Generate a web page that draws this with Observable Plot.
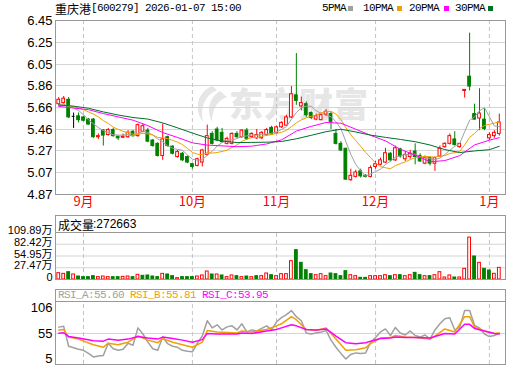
<!DOCTYPE html>
<html><head><meta charset="utf-8">
<script src="https://cdn.jsdelivr.net/npm/d3@7"></script>
<script src="https://cdn.jsdelivr.net/npm/@observablehq/plot@0.6"></script>
<style>
html,body{margin:0;padding:0;background:#fff;}
#wrap{position:relative;width:520px;height:365px;overflow:hidden;background:#fff;}
.abs{position:absolute;white-space:nowrap;line-height:13px;}
.mono{font-family:"Liberation Mono",monospace;font-size:11px;letter-spacing:-0.6px;}
.cjk{font-family:"Noto Sans CJK SC",sans-serif;font-size:12px;}
.sq{position:absolute;width:5px;height:5px;}
#wm{position:absolute;left:229px;top:83px;font-family:"Noto Sans CJK SC",sans-serif;font-weight:900;font-size:34px;line-height:40px;color:#e6e6e6;letter-spacing:1px;}
#wmicon{position:absolute;left:190px;top:84px;}
</style></head>
<body><div id="wrap">
<svg id="wmicon" width="40" height="40"><path d="M22 2 C 8 8, 3 24, 13 38 C 10 24, 14 12, 27 6 Z" fill="#e6e6e6"/><path d="M30 7 C 19 14, 16 26, 22 38 C 22 27, 26 17, 37 13 Z" fill="#e6e6e6"/></svg>
<div id="wm">东方财富</div>
</div>
<script>
// ---------- data ----------
const open = [5.69,5.70,5.73,5.58,5.58,5.57,5.55,5.55,5.39,5.45,
5.41,5.455,5.395,5.385,5.39,5.44,5.40,5.44,5.45,5.36,
5.33,5.22,5.39,5.305,5.21,5.24,5.21,5.145,5.13,5.16,
5.23,5.42,5.46,5.43,5.33,5.33,5.42,5.39,5.45,5.39,
5.38,5.38,5.41,5.475,5.425,5.48,5.495,5.57,5.77,5.67,
5.69,5.61,5.55,5.545,5.595,5.60,5.42,5.33,5.285,5.00,
5.03,5.08,5.04,5.03,5.12,5.14,5.16,5.24,5.18,5.28,
5.19,5.21,5.26,5.22,5.15,5.20,5.15,5.215,5.30,5.33,
5.37,5.30,5.81,5.94,5.60,5.56,5.55,5.38,5.40,5.42];
const high = [5.75,5.76,5.75,5.61,5.61,5.58,5.56,5.56,5.42,5.46,
5.47,5.47,5.40,5.42,5.45,5.45,5.51,5.51,5.47,5.37,
5.34,5.51,5.40,5.31,5.27,5.25,5.22,5.15,5.20,5.28,
5.50,5.44,5.48,5.47,5.39,5.43,5.44,5.46,5.47,5.43,
5.46,5.44,5.47,5.49,5.49,5.53,5.59,5.85,6.15,5.755,
5.71,5.62,5.60,5.61,5.64,5.62,5.46,5.35,5.29,5.10,
5.09,5.10,5.05,5.13,5.17,5.20,5.29,5.25,5.31,5.29,
5.26,5.27,5.33,5.24,5.22,5.21,5.21,5.31,5.34,5.42,
5.44,5.33,5.82,6.335,5.69,5.83,5.65,5.43,5.45,5.60];
const low = [5.67,5.69,5.56,5.47,5.52,5.53,5.50,5.38,5.37,5.31,
5.40,5.39,5.36,5.38,5.38,5.39,5.39,5.43,5.34,5.30,
5.21,5.18,5.30,5.23,5.20,5.17,5.15,5.10,5.12,5.12,
5.22,5.32,5.35,5.34,5.32,5.32,5.38,5.38,5.36,5.38,
5.37,5.37,5.40,5.41,5.42,5.47,5.49,5.56,5.68,5.63,
5.57,5.55,5.54,5.54,5.58,5.46,5.32,5.26,5.00,4.99,
5.02,5.02,5.02,5.02,5.10,5.13,5.15,5.17,5.17,5.20,
5.17,5.19,5.14,5.16,5.14,5.13,5.08,5.21,5.29,5.32,
5.31,5.29,5.745,5.81,5.545,5.45,5.45,5.36,5.38,5.40];
const close = [5.73,5.74,5.57,5.58,5.545,5.54,5.505,5.39,5.40,5.405,
5.455,5.40,5.38,5.395,5.43,5.40,5.50,5.49,5.35,5.31,
5.22,5.37,5.31,5.24,5.255,5.18,5.16,5.12,5.19,5.27,
5.40,5.33,5.36,5.345,5.375,5.42,5.39,5.45,5.375,5.42,
5.41,5.43,5.455,5.415,5.48,5.52,5.57,5.78,5.72,5.70,
5.59,5.565,5.58,5.59,5.62,5.53,5.33,5.27,5.005,5.04,
5.07,5.035,5.03,5.11,5.145,5.18,5.245,5.18,5.29,5.215,
5.23,5.24,5.21,5.17,5.20,5.15,5.20,5.285,5.33,5.40,
5.32,5.33,5.82,5.85,5.55,5.605,5.465,5.41,5.43,5.525];
// volume, 万
const volume = [14.8,13.2,17.1,11.7,7.0,5.5,5.5,7.8,5.5,7.0,
5.5,5.5,5.5,6.2,7.0,5.5,10.9,8.6,9.4,7.0,
5.5,13.2,11.7,7.8,3.1,5.5,5.5,5.5,7.0,9.4,
18.7,11.7,11.7,9.4,5.5,9.4,7.8,5.5,7.0,5.5,
7.8,7.8,14.0,10.1,7.8,12.5,12.5,42.9,68.6,39.0,
21.8,12.5,10.1,12.5,7.8,14.0,12.5,7.8,19.5,10.1,
7.8,3.9,3.9,7.8,7.8,7.8,10.1,7.8,10.1,10.1,
7.8,10.1,15.6,10.1,7.8,7.8,10.1,17.1,4.7,9.4,
4.7,4.7,25.0,98.0,53.8,39.0,25.0,21.0,13.3,27.27];
const ma5 = [5.69,5.69,5.67,5.655,5.633,5.595,5.548,5.512,5.478,5.45,
5.433,5.412,5.41,5.409,5.414,5.403,5.423,5.443,5.434,5.41,
5.374,5.348,5.312,5.29,5.279,5.271,5.229,5.191,5.181,5.184,
5.228,5.262,5.31,5.341,5.362,5.366,5.378,5.396,5.402,5.411,
5.409,5.417,5.418,5.426,5.438,5.46,5.488,5.553,5.614,5.658,
5.672,5.671,5.631,5.605,5.589,5.577,5.53,5.468,5.351,5.235,
5.143,5.084,5.036,5.057,5.078,5.10,5.142,5.172,5.208,5.222,
5.232,5.231,5.237,5.213,5.21,5.194,5.186,5.201,5.233,5.273,
5.307,5.333,5.44,5.544,5.574,5.631,5.658,5.576,5.492,5.487];
const ma10 = [5.68,5.68,5.675,5.67,5.655,5.64,5.62,5.60,5.575,5.541,
5.515,5.481,5.462,5.443,5.432,5.417,5.416,5.426,5.42,5.411,
5.388,5.385,5.378,5.362,5.345,5.323,5.289,5.252,5.236,5.232,
5.25,5.246,5.251,5.261,5.273,5.297,5.32,5.353,5.372,5.387,
5.388,5.398,5.407,5.414,5.425,5.435,5.453,5.486,5.52,5.548,
5.566,5.58,5.592,5.61,5.624,5.625,5.601,5.55,5.478,5.412,
5.36,5.307,5.252,5.204,5.157,5.122,5.113,5.104,5.133,5.15,
5.166,5.187,5.205,5.211,5.216,5.213,5.209,5.219,5.223,5.242,
5.251,5.26,5.321,5.389,5.424,5.469,5.496,5.508,5.518,5.531];
const maIdx = [0,3,6,9,12,15,18,21,24,27,30,33,36,39,42,45,48,51,54,57,60,63,66,69,72,75,78,81,84,87,89];
const ma20 = [5.67,5.655,5.64,5.605,5.575,5.545,5.495,5.4325,5.388,5.339,5.3185,5.3115,5.304,5.309,5.329,5.366,5.446,5.4885,5.524,5.5175,5.463,5.407,5.357,5.281,5.228,5.167,5.178,5.223,5.32,5.3635,5.386];
const ma30 = [5.683,5.672,5.653,5.62,5.592,5.569,5.555,5.52,5.475,5.428,5.3838,5.3553,5.3415,5.343,5.345,5.3513,5.3757,5.4075,5.4403,5.4627,5.4378,5.4092,5.3887,5.37,5.3495,5.3197,5.2778,5.251,5.2653,5.277,5.3073];
// RSI_A at every trading day
const rsiA = [67.5,69,30,27,24,22,16,9,11,12,
36,25,22,24,36,32,66,54,38,25,
22,48,35,30,28,22,20,19,36,50,
80,66,72,62,68,70,62,74,58,62,
60,65,70,62,78,86,92,100,88,80,
56,54,56,58,61,42,28,16,5,14,
17,16,17,38,47,58,64,51,67,56,
52,60,51,48,52,44,62,74,84,86,
62,67,100,100,71,66,54,49,51,55.6];
// RSI_B / RSI_C at selected days
const rsiIdx = [0,1,2,4,7,9,10,12,14,16,18,20,21,23,25,27,29,30,32,34,36,37,39,42,44,45,47,48,50,52,54,55,56,58,60,62,63,65,67,68,70,72,75,76,78,80,82,83,84,86,88,89];
const rsiB = [62,63,48,44,33,28,36,33,38,50,42,37,45,38,33,28,38,61,58,57,56,60,58,63,70,74,88,82,63,61,66,55,44,22,23,27,35,46,47,51,48,47,44,50,64,58,88,88,68,60,55,55.81];
const rsiC = [55.6,56.5,49,46,41,40,44,42,44,49,46,44,48,45,42,38,43,55,54,54,54,56,55,60,63,66,72,70,63,62,64,57,50,37,35,37,40,45,46,48,47,47,46,49,55,54,73,73,65,60,55,53.95];
const yTickLabels = ["6.45","6.25","6.05","5.86","5.66","5.46","5.27","5.07","4.87"];
const volTickLabels = ["109.89万","82.42万","54.95万","27.47万","0"];
const rsiTickLabels = ["106","55","5"];
const monthIdx = [5,27,44,64,87];
const monthLabels = ["9月","10月","11月","12月","1月"];
const title = "重庆港";
const titleRest = "[600279] 2026-01-07 15:00";
const volHeader = ["成交量", ":272663"];
const rsiHeader = ["RSI_A:55.60","RSI_B:55.81","RSI_C:53.95"];
const maNames = ["5PMA","10PMA","20PMA","30PMA"];

// ---------- styles ----------
const RED = "#ff0000", GREEN = "#008000";
const MA_COL = ["#a0a0a0","#f0a000","#ff00ff","#00702a"];
const RSI_COL = ["#a0a0a0","#f0a000","#ff00ff"];
const GRID = "#d4d4d4", BORDER = "#999";
const FONT = '"Liberation Sans", "Noto Sans CJK SC", sans-serif';
const CJK = '"Noto Sans CJK SC", sans-serif';
const xDomain = [-0.657, 90.25];
const half = 0.28;

const idx = d3.range(open.length);
const candles = idx.map(i => ({i, o: open[i], h: high[i], l: low[i], c: close[i]}));
const ccol = d => d.c > d.o ? RED : d.c < d.o ? GREEN : "#000";
const bodies = candles.filter(d => d.c !== d.o);
const flats = candles.filter(d => d.c === d.o);
const yTickVals = yTickLabels.map(Number);
const volTickVals = volTickLabels.map(s => parseFloat(s));
const rsiTickVals = rsiTickLabels.map(Number);
const volData = idx.map(i => ({i, v: volume[i], up: i === 0 ? close[0] >= open[0] : close[i] >= close[i-1]}));

const common = {
  width: 520, marginLeft: 55, marginRight: 15,
  x: {domain: xDomain, axis: null},
  style: {background: "transparent", fontFamily: FONT, overflow: "visible", color: "#000"}
};
const dashed = {stroke: "#c4c4c4", strokeDasharray: "4,3"};

const main = Plot.plot({
  ...common, height: 212, marginTop: 20, marginBottom: 18,
  y: {domain: [4.87, 6.45], axis: null},
  marks: [
    Plot.ruleY(yTickVals, {stroke: GRID}),
    Plot.ruleX(monthIdx, dashed),
    Plot.text(yTickVals, {y: d => d, text: (d, i) => yTickLabels[i], frameAnchor: "left", dx: -3, textAnchor: "end", fontSize: 13, fill: "#000"}),
    Plot.text(monthIdx, {x: d => d, text: (d, i) => monthLabels[i], frameAnchor: "bottom", dy: 11, fill: RED, fontSize: 13, fontFamily: CJK}),
    Plot.ruleX(candles, {x: "i", y1: "l", y2: "h", stroke: ccol}),
    Plot.rect(bodies, {x1: d => d.i - half, x2: d => d.i + half, y1: d => Math.min(d.o, d.c), y2: d => Math.max(d.o, d.c), fill: d => d.c > d.o ? "#fff" : GREEN, stroke: ccol}),
    Plot.ruleY(flats, {y: "c", x1: d => d.i - half, x2: d => d.i + half, stroke: "#000"}),
    Plot.line(idx, {x: d => d, y: d => ma5[d], stroke: MA_COL[0], strokeWidth: 1}),
    Plot.line(idx, {x: d => d, y: d => ma10[d], stroke: MA_COL[1], strokeWidth: 1}),
    Plot.line(maIdx, {x: d => d, y: (d, i) => ma20[i], stroke: MA_COL[2], strokeWidth: 1}),
    Plot.line(maIdx, {x: d => d, y: (d, i) => ma30[i], stroke: MA_COL[3], strokeWidth: 1}),
    Plot.frame({stroke: BORDER})
  ]
});

const volTop = 109.89 * 64 / 47;
const vp = Plot.plot({
  ...common, height: 65, marginTop: 0, marginBottom: 1,
  y: {domain: [0, volTop], axis: null},
  marks: [
    Plot.ruleY(volTickVals.slice(1, 4), {stroke: GRID}),
    Plot.ruleX(monthIdx, {...dashed, y1: d => 0, y2: d => volTickVals[0]}),
    Plot.rect(volData, {x1: d => d.i - half, x2: d => d.i + half, y1: d => 0, y2: "v", fill: d => d.up ? "#fff" : GREEN, stroke: d => d.up ? RED : GREEN}),
    Plot.ruleY([volTickVals[0]], {stroke: BORDER}),
    Plot.text(volTickVals, {y: d => d, text: (d, i) => volTickLabels[i], frameAnchor: "left", dx: -3, dy: -2, textAnchor: "end", fontSize: 11, fill: "#000"}),
    Plot.frame({stroke: BORDER})
  ]
});

const rsiLo = 55 - 31 / 0.51, rsiHi = 55 + 44 / 0.51, rsiSep = 55 + 32 / 0.51;
const rp = Plot.plot({
  ...common, height: 76, marginTop: 0, marginBottom: 1,
  y: {domain: [rsiLo, rsiHi], axis: null},
  marks: [
    Plot.ruleY([55], {stroke: GRID}),
    Plot.ruleX(monthIdx, {...dashed, y1: d => rsiLo, y2: d => rsiSep}),
    Plot.line(idx, {x: d => d, y: d => rsiA[d], stroke: RSI_COL[0]}),
    Plot.line(rsiIdx, {x: d => d, y: (d, i) => rsiB[i], stroke: RSI_COL[1]}),
    Plot.line(rsiIdx, {x: d => d, y: (d, i) => rsiC[i], stroke: RSI_COL[2]}),
    Plot.ruleY([rsiSep], {stroke: BORDER}),
    Plot.text(rsiTickVals, {y: d => d, text: (d, i) => rsiTickLabels[i], frameAnchor: "left", dx: -3, textAnchor: "end", fontSize: 13, fill: "#000"}),
    Plot.frame({stroke: BORDER})
  ]
});

// ---------- layout ----------
const wrap = document.getElementById("wrap");
function place(el, top, left) { el.style.position = "absolute"; el.style.top = top + "px"; el.style.left = (left || 0) + "px"; wrap.appendChild(el); return el; }
place(main, 0); place(vp, 215); place(rp, 289);
function txt(s, cls, top, left, color) {
  const d = document.createElement("div"); d.className = "abs " + cls; d.textContent = s;
  if (color) d.style.color = color; return place(d, top, left);
}
// title
txt(title, "cjk", 2, 55, "#000");
txt(titleRest, "mono", 2, 91, "#000");
// legend
const legLeft = [322, 363, 409, 455], sqLeft = [348, 397, 444, 488];
maNames.forEach((n, k) => {
  txt(n, "mono", 2, legLeft[k], "#000");
  const s = document.createElement("div"); s.className = "sq"; s.style.background = MA_COL[k]; place(s, 6, sqLeft[k]);
});
// volume header
txt(volHeader[0], "cjk", 218, 58, "#000");
const vh = txt(volHeader[1], "", 218, 93, "#000"); vh.style.font = '12px/13px "Liberation Sans", sans-serif';
// rsi header
const rl = [58, 130, 202];
rsiHeader.forEach((t, k) => txt(t, "mono", 289, rl[k], RSI_COL[k]));
</script>
</body></html>
